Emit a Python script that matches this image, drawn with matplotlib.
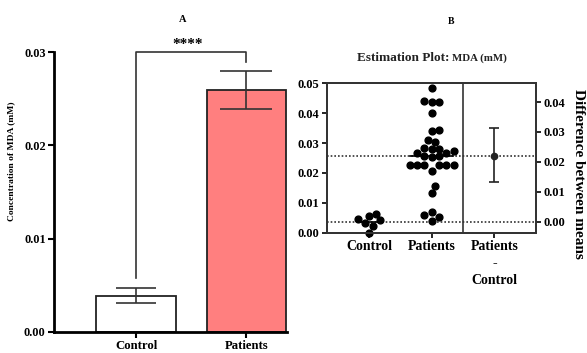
import numpy as np
import matplotlib
matplotlib.use("Agg")
import matplotlib.pyplot as plt

plt.rcParams['font.family'] = ['Liberation Serif', 'DejaVu Serif']
plt.rcParams['font.weight'] = 'bold'

# Panel A: bar chart (mean +/- error)
groups = ["Control", "Patients"]
bar_means = [0.00389, 0.02593]
bar_err = [0.0008, 0.0020]
bar_colors = ["white", "#FF7F7F"]

# Panel B: estimation plot raw values
control_vals = [0.0063, 0.0056, 0.0031, 0.0045, 0.0023, 0.0042, 0.0000]
patient_vals = [0.0485, 0.0437, 0.0437, 0.0442, 0.0400, 0.0344, 0.0339,
                0.0302, 0.0310, 0.0281, 0.0281, 0.0285, 0.0268, 0.0268,
                0.0272, 0.0258, 0.0255, 0.0257, 0.0227, 0.0227, 0.0227,
                0.0227, 0.0227, 0.0227, 0.0207, 0.0155, 0.0132, 0.0069,
                0.0040, 0.0051, 0.0059]
diff_mean = 0.0221
diff_ci = [0.0133, 0.0312]
est_labels = ["Control", "Patients", "Patients\n-\nControl"]

W, H = 587, 353
fig = plt.figure(figsize=(W / 100, H / 100), dpi=100)

# ---------------- Panel A ----------------
ax = fig.add_axes([0.092, 0.0595, 0.397, 0.793])
x = np.arange(len(groups))
ax.bar(x, bar_means, width=0.72, color=bar_colors, edgecolor='#222222', linewidth=1.3, zorder=2)
ax.errorbar(x[0], bar_means[0], yerr=bar_err[0], fmt='none', ecolor='#333333',
            elinewidth=1.2, capsize=14.5, capthick=1.2, zorder=3)
ax.errorbar(x[1], bar_means[1], yerr=bar_err[1], fmt='none', ecolor='#333333',
            elinewidth=1.2, capsize=18.5, capthick=1.2, zorder=3)
ax.set_xlim(-0.745, 1.37)
ax.set_ylim(0, 0.03)
ax.set_yticks([0, 0.01, 0.02, 0.03])
ax.set_yticklabels(["0.00", "0.01", "0.02", "0.03"], fontsize=8.8, fontweight='bold')
ax.set_xticks(x)
ax.set_xticklabels(groups, fontsize=9.2, fontweight='bold')
for s in ['top', 'right']:
    ax.spines[s].set_visible(False)
for s in ['left', 'bottom']:
    ax.spines[s].set_linewidth(2)
ax.tick_params(axis='both', width=1.5, length=4, pad=2)
ax.set_ylabel("Concentration of MDA (mM)", fontsize=6.8, fontweight='bold')
ax.yaxis.set_label_coords(-0.165, 0.61)

# significance bracket
ax.plot([0, 0, 1, 1], [0.0058, 0.03, 0.03, 0.0289], color='#333333', lw=1.2, clip_on=False)
ax.text(0.47, 0.0301, "****", ha='center', va='bottom', fontsize=11, fontweight='bold')
fig.text(183 / W, 1 - 20 / H, "A", ha='center', va='center', fontsize=7.5, fontweight='bold')


# ---------------- Panel B ----------------
def swarm_offsets(vals, px_per_x, px_per_y, dot=7.3):
    order = np.argsort(vals)
    placed = []
    offs = np.zeros(len(vals))
    step = dot / px_per_x
    cands = [0]
    for k in range(1, 12):
        cands += [k * 0.5, -k * 0.5]
    for i in order:
        for k in cands:
            ox = k * step
            ok = True
            for (px, py) in placed:
                dx = (ox - px) * px_per_x
                dy = (vals[i] - py) * px_per_y
                if dx * dx + dy * dy < (dot * 0.98) ** 2:
                    ok = False
                    break
            if ok:
                offs[i] = ox
                placed.append((ox, vals[i]))
                break
    return offs


bx = fig.add_axes([0.5576, 0.3408, 0.355, 0.4232])
bx.set_xlim(-0.665, 2.658)
bx.set_ylim(0, 0.05)
px_x = 62.7
px_y = 2988

c_arr = np.array(control_vals)
p_arr = np.array(patient_vals)
c_off = swarm_offsets(c_arr, px_x, px_y)
p_off = swarm_offsets(p_arr, px_x, px_y)
bx.scatter(0 + c_off, c_arr, s=24, color='black', zorder=3, clip_on=False)
bx.scatter(1 + p_off, p_arr, s=24, color='black', zorder=3, clip_on=False)

c_mean = c_arr.mean()
p_mean = p_arr.mean()
bx.axhline(c_mean, color='#333333', ls=(0, (1, 1.2)), lw=1.2, zorder=1)
bx.axhline(p_mean, color='#333333', ls=(0, (1, 1.2)), lw=1.2, zorder=1)
bx.plot([-0.18, 0.18], [c_mean, c_mean], color='black', lw=1.2, zorder=2)
bx.plot([0.66, 1.34], [p_mean, p_mean], color='black', lw=1.2, zorder=2)
bx.axvline(1.494, color='#333333', lw=1.2)

bx.set_yticks(np.arange(0, 0.051, 0.01))
bx.set_yticklabels(["0.00", "0.01", "0.02", "0.03", "0.04", "0.05"], fontsize=9, fontweight='bold')
bx.set_xticks([0, 1, 2])
bx.set_xticklabels(est_labels, fontsize=10, fontweight='bold', linespacing=1.4)
bx.tick_params(axis='both', width=1.2, length=3.5, pad=2)
for s in bx.spines.values():
    s.set_linewidth(1.3)
    s.set_color('#333333')

tx = bx.twinx()
tx.set_ylim(0 - c_mean, 0.05 - c_mean)
tx.errorbar(2, diff_mean, yerr=[[diff_mean - diff_ci[0]], [diff_ci[1] - diff_mean]],
            fmt='o', color='#222222', ms=4.5, elinewidth=1.2, capsize=3.5, capthick=1.2)
tx.set_yticks(np.arange(0, 0.041, 0.01))
tx.set_yticklabels(["0.00", "0.01", "0.02", "0.03", "0.04"], fontsize=9, fontweight='bold')
tx.tick_params(axis='y', width=1.2, length=3.5, pad=2)
for s in tx.spines.values():
    s.set_linewidth(1.3)
    s.set_color('#333333')
fig.text(578.5 / W, 1 - 174 / H, "Difference between means", rotation=-90,
         ha='center', va='center', fontsize=11, fontweight='bold')

fig.text(449 / W, 1 - 61 / H, "Estimation Plot:", ha='right', va='baseline',
         fontsize=9.5, fontweight='bold', color='#222222')
fig.text(452 / W, 1 - 61 / H, "MDA (mM)", ha='left', va='baseline',
         fontsize=7.8, fontweight='bold', color='#222222')
fig.text(451 / W, 1 - 22 / H, "B", ha='center', va='center', fontsize=7, fontweight='bold')

fig.savefig("out.png", dpi=100)
